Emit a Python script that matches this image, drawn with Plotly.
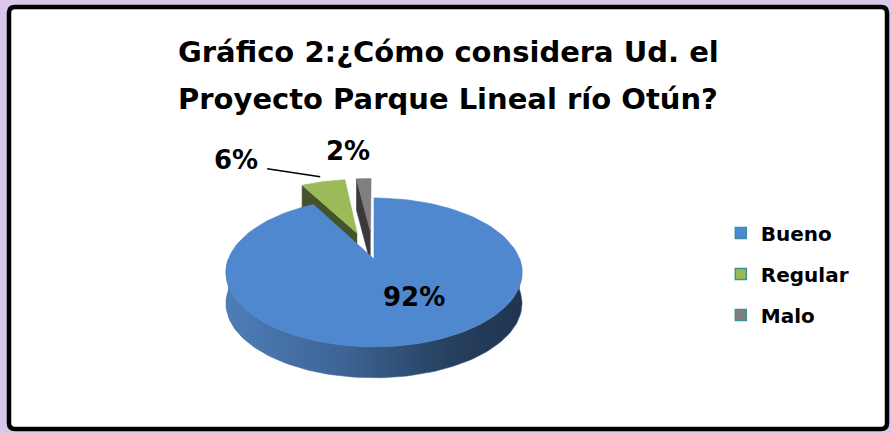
import numpy as np
import plotly.graph_objects as go

# ---- data ----
categorias = ["Bueno", "Regular", "Malo"]
porcentajes = [92, 6, 2]
colores_sup = ["#4f88cf", "#9bbb59", "#7f7f7f"]
colores_lado = ["#3a5f8f", "#44532a", "#3a3a3a"]
explosion = [0.0, 0.4, 0.4]

titulo_1 = "Gráfico 2:¿Cómo considera Ud. el"
titulo_2 = "Proyecto Parque Lineal río Otún?"

# ---- geometry of the 3-D pie (pixel space) ----
W, H = 891, 433
CX, CY = 374, 259          # centre of the top face
RX, RY = 145.6, 72         # radii before perspective
K = 0.18                   # perspective strength
PROF = 31                  # thickness of the disc
FONT = "DejaVu Sans"


def proj(X, Z, down=0.0):
    d = 1 + K * np.asarray(Z)
    return CX + RX * np.asarray(X) / d, CY - RY * np.asarray(Z) / d + down


def arco(a, b, ex, ez, down=0.0, n=120):
    t = np.radians(np.linspace(a, b, n))
    return proj(np.sin(t) + ex, np.cos(t) + ez, down)


def poly(xs, ys, color=None, grad=None):
    kw = dict(x=list(xs), y=list(ys), mode="lines", fill="toself",
              line=dict(width=0.6, color=color or "rgba(0,0,0,0)"),
              hoverinfo="skip", showlegend=False)
    if grad is not None:
        kw["fillgradient"] = dict(type="horizontal", colorscale=grad)
    else:
        kw["fillcolor"] = color
    return go.Scatter(**kw)


fig = go.Figure()

# slice angles, clockwise from 12 o'clock
total = sum(porcentajes)
bordes = np.concatenate([[0], np.cumsum(porcentajes) / total * 360])
rebanadas = []
for i, v in enumerate(porcentajes):
    a, b = bordes[i], bordes[i + 1]
    m = np.radians((a + b) / 2)
    ex, ez = explosion[i] * np.sin(m), explosion[i] * np.cos(m)
    rebanadas.append((i, a, b, m, ex, ez))

# paint back to front
for i, a, b, m, ex, ez in sorted(rebanadas, key=lambda r: -np.cos(r[3])):
    lado = colores_lado[i]
    vx, vy = proj(ex, ez)
    # outer wall (front half only)
    lo, hi = max(a, 90), min(b, 270)
    if hi > lo:
        tx, ty = arco(lo, hi, ex, ez)
        bx, by = arco(lo, hi, ex, ez, PROF)
        grad = None
        if i == 0:
            grad = [[0, "#4e7db9"], [0.4, "#3d6494"], [0.75, "#26405f"], [1, "#21344f"]]
        fig.add_trace(poly(np.r_[tx, bx[::-1]], np.r_[ty, by[::-1]], lado, grad))
    # radial walls facing the viewer
    for ang, normal in ((a, a - 90), (b, b + 90)):
        if np.cos(np.radians(normal)) < -0.02:
            t = np.radians(ang)
            ox, oy = proj(np.sin(t) + ex, np.cos(t) + ez)
            fig.add_trace(poly([vx, ox, ox, vx], [vy, oy, oy + PROF, vy + PROF], lado))
    # top face
    tx, ty = arco(a, b, ex, ez)
    fig.add_trace(poly(np.r_[vx, tx, vx], np.r_[vy, ty, vy], colores_sup[i]))

# ---- percentage labels ----
lbl_font = dict(family=FONT, size=26, color="black", weight="bold")
desplaz = {0: (40, 38), 1: (-87, -22), 2: (-16, -28)}
for i, a, b, m, ex, ez in rebanadas:
    if explosion[i] == 0:
        px, py = proj(0.0, 0.0)
    else:
        px, py = proj(np.sin(m) * (1 + explosion[i]), np.cos(m) * (1 + explosion[i]))
    dx, dy = desplaz[i]
    fig.add_annotation(x=px + dx, y=py + dy, text=f"{porcentajes[i]}%",
                       showarrow=False, font=lbl_font, xanchor="center", yanchor="middle")
    if i == 1:
        # leader line from the label to the slice
        fig.add_trace(go.Scatter(x=[px + dx + 31, px - 3], y=[py + dy + 9, py - 5],
                                 mode="lines", line=dict(color="black", width=1.5),
                                 hoverinfo="skip", showlegend=False))

# ---- legend entries ----
for cat, col in zip(categorias, colores_sup):
    fig.add_trace(go.Scatter(x=[None], y=[None], mode="markers", name=cat,
                             legendgroup=cat,
                             marker=dict(symbol="square", size=11, color=col,
                                         line=dict(color="#3e8ea0", width=1.5))))

# ---- title ----
tit_font = dict(family=FONT, size=29, color="black", weight="bold")
fig.add_annotation(x=448, y=52, text=titulo_1, showarrow=False, font=tit_font,
                   xanchor="center", yanchor="middle")
fig.add_annotation(x=448, y=99, text=titulo_2, showarrow=False, font=tit_font,
                   xanchor="center", yanchor="middle")

# ---- chart frame ----
r = 6
x0, y0, x1, y1 = 9, 7, 887, 429
marco = (f"M {x0+r},{y0} L {x1-r},{y0} Q {x1},{y0} {x1},{y0+r} "
         f"L {x1},{y1-r} Q {x1},{y1} {x1-r},{y1} L {x0+r},{y1} "
         f"Q {x0},{y1} {x0},{y1-r} L {x0},{y0+r} Q {x0},{y0} {x0+r},{y0} Z")
fig.add_shape(type="path", path=marco, xref="x", yref="y", layer="below",
              fillcolor="white", line=dict(color="black", width=4.5))

fig.update_layout(
    width=W, height=H,
    margin=dict(l=0, r=0, t=0, b=0),
    paper_bgcolor="#d8c7ea",
    plot_bgcolor="rgba(0,0,0,0)",
    xaxis=dict(range=[0, W], visible=False, fixedrange=True),
    yaxis=dict(range=[H, 0], visible=False, fixedrange=True),
    showlegend=True,
    legend=dict(x=0.809, y=1 - 274 / H, xanchor="left", yanchor="middle",
                font=dict(family=FONT, size=20, color="black", weight="bold"),
                tracegroupgap=12, itemwidth=30, bgcolor="rgba(0,0,0,0)"),
)

fig.write_html("out.html")
